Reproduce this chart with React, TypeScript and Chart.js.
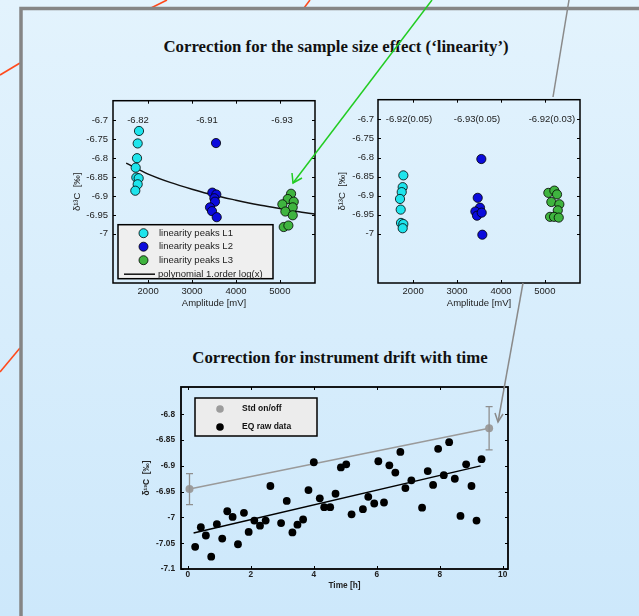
import React, { useEffect, useRef } from 'react';
import { Chart, registerables } from 'chart.js';

Chart.register(...registerables);
Chart.defaults.font.family = '"Liberation Sans", Arial, sans-serif';

// ---------------- data ----------------
const ampTicks = [2000, 3000, 4000, 5000];
const deltaTicks = [-7, -6.95, -6.9, -6.85, -6.8, -6.75, -6.7];

// raw linearity peaks (left panel)
const l1Amp = [1792, 1762, 1747, 1717, 1731, 1785, 1762, 1708];
const l1Delta = [-6.728, -6.761, -6.8, -6.825, -6.851, -6.853, -6.869, -6.886];
const l2Amp = [3546, 3462, 3553, 3508, 3523, 3409, 3455, 3562];
const l2Delta = [-6.76, -6.891, -6.896, -6.906, -6.915, -6.93, -6.94, -6.956];
const l3Amp = [5255, 5179, 5316, 5057, 5293, 5125, 5293, 5088, 5194];
const l3Delta = [-6.894, -6.908, -6.915, -6.922, -6.93, -6.941, -6.951, -6.982, -6.978];
const fitAmp = [1500, 2000, 2500, 3000, 3500, 4000, 4500, 5000, 5500, 5800];
const fitDelta = [-6.813, -6.842, -6.864, -6.882, -6.898, -6.911, -6.923, -6.933, -6.943, -6.948];
const rawMeanLabels = ['-6.82', '-6.91', '-6.93'];
const rawMeanAmp = [1770, 3340, 5050];

// corrected linearity peaks (right panel)
const c1Amp = [1777, 1762, 1740, 1701, 1717, 1724, 1777, 1762];
const c1Delta = [-6.847, -6.878, -6.891, -6.909, -6.937, -6.972, -6.975, -6.986];
const c2Amp = [3553, 3471, 3523, 3417, 3455, 3562, 3576];
const c2Delta = [-6.804, -6.906, -6.932, -6.942, -6.953, -6.945, -7.003];
const c3Amp = [5079, 5216, 5277, 5147, 5330, 5294, 5118, 5209, 5316];
const c3Delta = [-6.893, -6.887, -6.897, -6.917, -6.923, -6.939, -6.956, -6.956, -6.958];
const corrMeanLabels = ['-6.92(0.05)', '-6.93(0.05)', '-6.92(0.03)'];
const corrMeanAmp = [1906, 3455, 5160];

const linLegend = ['linearity peaks L1', 'linearity peaks L2', 'linearity peaks L3', 'polynomial 1.order log(x)'];

// drift panel
const timeTicks = [0, 2, 4, 6, 8, 10];
const driftTicks = [-7.1, -7.05, -7, -6.95, -6.9, -6.85, -6.8];
const eqTime = [0.23, 0.41, 0.57, 0.74, 0.92, 1.09, 1.25, 1.42, 1.59, 1.78, 1.93, 2.11, 2.29, 2.47, 2.62, 2.96, 3.14, 3.32, 3.48, 3.66, 3.83, 4.0, 4.19, 4.33, 4.52, 4.69, 4.86, 5.03, 5.2, 5.56, 5.73, 5.92, 6.05, 6.23, 6.4, 6.59, 6.75, 6.91, 7.1, 7.44, 7.62, 7.79, 7.95, 8.13, 8.3, 8.48, 8.66, 8.84, 9.01, 9.17, 9.33];
const eqDelta = [-7.057, -7.019, -7.035, -7.076, -7.013, -7.041, -6.988, -6.999, -7.052, -6.991, -7.028, -7.006, -7.016, -7.006, -6.939, -7.011, -6.968, -7.029, -7.014, -7.004, -6.947, -6.893, -6.963, -6.98, -6.98, -6.954, -6.903, -6.897, -6.994, -6.984, -6.96, -6.973, -6.891, -6.971, -6.899, -6.913, -6.873, -6.943, -6.928, -6.981, -6.91, -6.937, -6.867, -6.918, -6.854, -6.925, -6.997, -6.897, -6.939, -7.006, -6.887];
const stdTime = [0.05, 9.57];
const stdDelta = [-6.945, -6.827];
const stdErr = [0.03, 0.042];
const eqFitTime = [0.18, 9.3];
const eqFitDelta = [-7.03, -6.9];
const driftLegend = ['Std on/off', 'EQ raw data'];

// ---------------- styles ----------------
const CYAN = '#1ee4ec';
const BLUE = '#0b0bdc';
const GREEN = '#3fb43f';
const GREYPT = '#9c9c9c';
const TXT = '#222';

const pts = (xs: number[], ys: number[]) => xs.map((x, i) => ({ x, y: ys[i] }));

function frameTicks(chart: any, xt: number[], yt: number[], len: number, lw: number) {
  const { ctx, chartArea: a, scales } = chart;
  const x = scales.x, y = scales.y;
  ctx.save();
  ctx.strokeStyle = '#000';
  ctx.lineWidth = 1;
  ctx.beginPath();
  for (const v of xt) {
    const px = Math.round(x.getPixelForValue(v)) + 0.5;
    ctx.moveTo(px, a.bottom); ctx.lineTo(px, a.bottom - len);
    ctx.moveTo(px, a.top); ctx.lineTo(px, a.top + len);
  }
  for (const v of yt) {
    const py = Math.round(y.getPixelForValue(v)) + 0.5;
    ctx.moveTo(a.left, py); ctx.lineTo(a.left + len, py);
    ctx.moveTo(a.right, py); ctx.lineTo(a.right - len, py);
  }
  ctx.stroke();
  ctx.lineWidth = lw;
  ctx.strokeRect(a.left, a.top, a.right - a.left, a.bottom - a.top);
  ctx.restore();
}

function meanLabels(chart: any, xs: number[], labels: string[]) {
  const { ctx, scales } = chart;
  ctx.save();
  ctx.font = '9.5px "Liberation Sans", Arial, sans-serif';
  ctx.fillStyle = TXT;
  ctx.textAlign = 'center';
  ctx.textBaseline = 'middle';
  const py = scales.y.getPixelForValue(-6.7);
  xs.forEach((v, i) => ctx.fillText(labels[i], scales.x.getPixelForValue(v), py));
  ctx.restore();
}

function circle(ctx: any, x: number, y: number, r: number, fill: string, stroke?: string) {
  ctx.beginPath();
  ctx.arc(x, y, r, 0, Math.PI * 2);
  ctx.fillStyle = fill;
  ctx.fill();
  if (stroke) { ctx.strokeStyle = stroke; ctx.lineWidth = 0.8; ctx.stroke(); }
}

function linAxes(yTitleX: number, ySize: number, xHeight: number, tickPad: number) {
  return {
    x: {
      type: 'linear', min: 1200, max: 5800,
      grid: { display: false, drawTicks: false }, border: { display: false },
      afterBuildTicks: (ax: any) => { ax.ticks = ampTicks.map((v) => ({ value: v })); },
      afterFit: (ax: any) => { ax.height = xHeight; },
      ticks: { padding: 3, font: { size: 9.5 }, color: TXT, maxRotation: 0, autoSkip: false, callback: (v: any) => String(v) },
      title: { display: true, text: 'Amplitude [mV]', font: { size: 9.5 }, color: TXT, padding: { top: 0, bottom: 11 } },
    },
    y: {
      type: 'linear', min: -7.13, max: -6.648,
      grid: { display: false, drawTicks: false }, border: { display: false },
      afterBuildTicks: (ax: any) => { ax.ticks = deltaTicks.map((v) => ({ value: v })); },
      afterFit: (ax: any) => { ax.width = ySize; },
      ticks: { padding: tickPad, font: { size: 9.5 }, color: TXT, autoSkip: false, callback: (v: any) => String(v) },
      title: { display: true, text: 'δ¹³C  [‰]', font: { size: 9.5 }, color: TXT, padding: { top: yTitleX, bottom: 0 } },
    },
  };
}

const dot = (color: string) => ({
  backgroundColor: color, borderColor: '#000', borderWidth: 0.8, pointRadius: 4.6, pointHoverRadius: 4.6,
});

function LinearityRaw() {
  const ref = useRef<HTMLCanvasElement>(null);
  useEffect(() => {
    const plugin = {
      id: 'decorRaw',
      afterDatasetsDraw(chart: any) {
        frameTicks(chart, ampTicks, deltaTicks, 3, 1.5);
        meanLabels(chart, rawMeanAmp, rawMeanLabels);
        const ctx = chart.ctx;
        const a = chart.chartArea;
        const bx = a.left + 5, by = a.top + 124, bw = 155, bh = 54;
        ctx.save();
        ctx.fillStyle = '#efefef';
        ctx.fillRect(bx, by, bw, bh);
        ctx.strokeStyle = '#000';
        ctx.lineWidth = 1.5;
        ctx.strokeRect(bx, by, bw, bh);
        const rows = [by + 8.5, by + 22, by + 35.5, by + 49.5];
        const cols = [CYAN, BLUE, GREEN];
        cols.forEach((c, i) => circle(ctx, bx + 25.5, rows[i], 4.5, c, '#000'));
        ctx.beginPath();
        ctx.moveTo(bx + 6, rows[3]); ctx.lineTo(bx + 37, rows[3]);
        ctx.strokeStyle = '#111'; ctx.lineWidth = 1.5; ctx.stroke();
        ctx.font = '9.5px "Liberation Sans", Arial, sans-serif';
        ctx.fillStyle = TXT;
        ctx.textAlign = 'left';
        ctx.textBaseline = 'middle';
        linLegend.forEach((t, i) => ctx.fillText(t, i === 3 ? bx + 40 : bx + 41, rows[i]));
        ctx.restore();
      },
    };
    const chart = new Chart(ref.current as HTMLCanvasElement, {
      type: 'scatter',
      data: {
        datasets: [
          { data: pts(l1Amp, l1Delta), ...dot(CYAN) },
          { data: pts(l2Amp, l2Delta), ...dot(BLUE) },
          { data: pts(l3Amp, l3Delta), ...dot(GREEN) },
          { type: 'line', data: pts(fitAmp, fitDelta), borderColor: '#111', borderWidth: 1.5, pointRadius: 0, fill: false, cubicInterpolationMode: 'monotone' } as any,
        ],
      },
      options: {
        animation: false, responsive: false, devicePixelRatio: 1, events: [],
        layout: { padding: { top: 7, right: 15, left: 0, bottom: 0 } },
        plugins: { legend: { display: false }, tooltip: { enabled: false } },
        scales: linAxes(11.5, 53, 37, 5) as any,
      },
      plugins: [plugin],
    });
    return () => chart.destroy();
  }, []);
  return <canvas ref={ref} width={270} height={230} style={{ position: 'absolute', left: 60, top: 90, width: 270, height: 230 }} />;
}

function LinearityCorr() {
  const ref = useRef<HTMLCanvasElement>(null);
  useEffect(() => {
    const plugin = {
      id: 'decorCorr',
      afterDatasetsDraw(chart: any) {
        frameTicks(chart, ampTicks, deltaTicks, 3, 1.5);
        meanLabels(chart, corrMeanAmp, corrMeanLabels);
      },
    };
    const chart = new Chart(ref.current as HTMLCanvasElement, {
      type: 'scatter',
      data: {
        datasets: [
          { data: pts(c1Amp, c1Delta), ...dot(CYAN) },
          { data: pts(c2Amp, c2Delta), ...dot(BLUE) },
          { data: pts(c3Amp, c3Delta), ...dot(GREEN) },
        ],
      },
      options: {
        animation: false, responsive: false, devicePixelRatio: 1, events: [],
        layout: { padding: { top: 7, right: 20, left: 0, bottom: 0 } },
        plugins: { legend: { display: false }, tooltip: { enabled: false } },
        scales: linAxes(6.5, 48, 37, 4) as any,
      },
      plugins: [plugin],
    });
    return () => chart.destroy();
  }, []);
  return <canvas ref={ref} width={270} height={230} style={{ position: 'absolute', left: 330, top: 90, width: 270, height: 230 }} />;
}

function Drift() {
  const ref = useRef<HTMLCanvasElement>(null);
  useEffect(() => {
    const bold8 = { size: 8.3, weight: 'bold' as const };
    const plugin = {
      id: 'decorDrift',
      afterDatasetsDraw(chart: any) {
        const { ctx, scales } = chart;
        ctx.save();
        ctx.strokeStyle = '#8f8f8f';
        ctx.lineWidth = 1.3;
        ctx.beginPath();
        stdTime.forEach((t, i) => {
          const px = scales.x.getPixelForValue(t);
          const y1 = scales.y.getPixelForValue(stdDelta[i] + stdErr[i]);
          const y2 = scales.y.getPixelForValue(stdDelta[i] - stdErr[i]);
          ctx.moveTo(px, y1); ctx.lineTo(px, y2);
          ctx.moveTo(px - 3.5, y1); ctx.lineTo(px + 3.5, y1);
          ctx.moveTo(px - 3.5, y2); ctx.lineTo(px + 3.5, y2);
        });
        ctx.stroke();
        ctx.restore();
        frameTicks(chart, timeTicks, driftTicks, 3, 1.8);
        const a = chart.chartArea;
        const bx = a.left + 14, by = a.top + 11, bw = 122, bh = 38;
        ctx.save();
        ctx.fillStyle = '#ececec';
        ctx.fillRect(bx, by, bw, bh);
        ctx.strokeStyle = '#000';
        ctx.lineWidth = 1.5;
        ctx.strokeRect(bx, by, bw, bh);
        const rows = [by + 11, by + 29];
        circle(ctx, bx + 25, rows[0], 3.8, GREYPT);
        circle(ctx, bx + 25, rows[1], 3.8, '#000');
        ctx.font = 'bold 8.5px "Liberation Sans", Arial, sans-serif';
        ctx.fillStyle = '#111';
        ctx.textAlign = 'left';
        ctx.textBaseline = 'middle';
        driftLegend.forEach((t, i) => ctx.fillText(t, bx + 47, rows[i]));
        ctx.restore();
      },
    };
    const chart = new Chart(ref.current as HTMLCanvasElement, {
      type: 'scatter',
      data: {
        datasets: [
          { data: pts(eqTime, eqDelta), backgroundColor: '#000', borderColor: '#000', borderWidth: 0, pointRadius: 3.9 },
          { data: pts(stdTime, stdDelta), showLine: true, borderColor: '#9a9a9a', borderWidth: 1.5, backgroundColor: GREYPT, pointBackgroundColor: GREYPT, pointBorderWidth: 0, pointRadius: 4 } as any,
          { type: 'line', data: pts(eqFitTime, eqFitDelta), borderColor: '#000', borderWidth: 1.5, pointRadius: 0, fill: false } as any,
        ],
      },
      options: {
        animation: false, responsive: false, devicePixelRatio: 1, events: [],
        layout: { padding: { top: 12, right: 12, left: 0, bottom: 0 } },
        plugins: { legend: { display: false }, tooltip: { enabled: false } },
        scales: {
          x: {
            type: 'linear', min: -0.22, max: 10.17,
            grid: { display: false, drawTicks: false }, border: { display: false },
            afterBuildTicks: (ax: any) => { ax.ticks = timeTicks.map((v) => ({ value: v })); },
            afterFit: (ax: any) => { ax.height = 31; },
            ticks: { padding: 1, font: bold8, color: TXT, maxRotation: 0, autoSkip: false, callback: (v: any) => String(v) },
            title: { display: true, text: 'Time [h]', font: bold8, color: TXT, padding: { top: 0, bottom: 9 } },
          },
          y: {
            type: 'linear', min: -7.1, max: -6.747,
            grid: { display: false, drawTicks: false }, border: { display: false },
            afterBuildTicks: (ax: any) => { ax.ticks = driftTicks.map((v) => ({ value: v })); },
            afterFit: (ax: any) => { ax.width = 46; },
            ticks: { padding: 6, font: bold8, color: TXT, autoSkip: false, callback: (v: any) => String(v) },
            title: { display: true, text: 'δ¹³C  [‰]', font: bold8, color: TXT, padding: { top: 7, bottom: 0 } },
          },
        } as any,
      },
      plugins: [plugin],
    });
    return () => chart.destroy();
  }, []);
  return <canvas ref={ref} width={385} height={225} style={{ position: 'absolute', left: 135, top: 375, width: 385, height: 225 }} />;
}

const titleStyle: React.CSSProperties = {
  position: 'absolute', width: 440, textAlign: 'center', fontFamily: '"Liberation Serif", "Times New Roman", serif',
  fontWeight: 'bold', fontSize: 16.8, lineHeight: '20px', color: '#111', whiteSpace: 'nowrap',
};

export default function App() {
  return (
    <div style={{ position: 'absolute', left: 0, top: 0, width: 639, height: 616, overflow: 'hidden', background: 'linear-gradient(to bottom, #e3f3fd, #cde8fb)' }}>
      <div style={{ ...titleStyle, left: 116, top: 37 }}>Correction for the sample size effect (‘linearity’)</div>
      <div style={{ ...titleStyle, left: 120, top: 348 }}>Correction for instrument drift with time</div>
      <LinearityRaw />
      <LinearityCorr />
      <Drift />
      <svg width={639} height={616} style={{ position: 'absolute', left: 0, top: 0, pointerEvents: 'none' }}>
        <g stroke="#ff4a1c" strokeWidth={1.6} fill="none">
          <line x1={0} y1={75} x2={20} y2={63} />
          <line x1={0} y1={372} x2={20} y2={348} />
          <line x1={151} y1={8} x2={167} y2={0} />
          <line x1={304} y1={8} x2={310} y2={0} />
        </g>
        <polyline points="21,616 21,8.5 639,8.5" stroke="#858585" strokeWidth={3.5} fill="none" />
        <g stroke="#22cc22" strokeWidth={1.5} fill="none">
          <line x1={432} y1={0} x2={293} y2={183} />
          <polyline points="292,173 293,183 302,178" />
        </g>
        <g stroke="#8a8a8a" strokeWidth={1.5} fill="none">
          <line x1={569} y1={0} x2={553} y2={97} />
          <line x1={523} y1={283} x2={498} y2={422} />
          <polyline points="495,413 498,422 503,414" />
        </g>
      </svg>
    </div>
  );
}
